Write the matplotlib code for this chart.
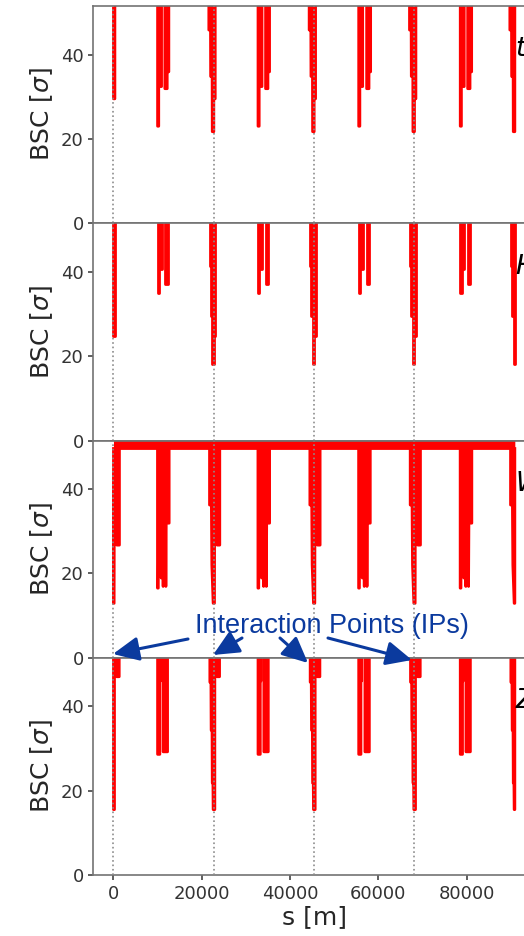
import numpy as np
import matplotlib
matplotlib.use('Agg')
import matplotlib.pyplot as plt

# positions around the ring [m]
IP_S = [0, 22725, 45450, 68175, 90900]
TS1_S = [10350, 33100, 55900, 78900]
TS2_S = [12020, 34830, 57720, 80600]

MODES = [r'$t\bar{t}$', r'$H$', r'$W$', r'$Z$']

# dip profiles: (offset from centre [m], BSC [sigma])
TT_IP_L = [(-1130, 45.8), (-750, 45.8), (-720, 34.8), (-380, 34.8), (-350, 21.7), (0, 21.7)]
TT_IP_R = [(0, 29.5), (320, 29.5)]
TT_TS1 = [(-360, 23.0), (-100, 23.0), (-100, 32.4), (540, 32.4)]
TT_TS2 = [(-380, 31.9), (150, 31.9), (150, 35.9), (520, 35.9)]

H_IP_L = [(-970, 41.3), (-700, 41.3), (-700, 29.4), (-300, 29.4), (-300, 18.2), (0, 18.2)]
H_IP_R = [(0, 24.7), (320, 24.7)]
H_TS1 = [(-360, 35.0), (-50, 35.0), (-50, 40.6), (540, 40.6)]
H_TS2 = [(-380, 37.2), (230, 37.2)]

W_IP_L = [(-970, 36.2), (-550, 36.2), (-450, 22.0), (-150, 12.9), (0, 12.9)]
W_IP_R = [(0, 12.9), (150, 12.9), (200, 44.0), (750, 44.0), (750, 26.7), (1350, 26.7)]
W_TS = [(-380, 16.5), (-200, 16.5), (-150, 29.0), (380, 29.0), (450, 18.9), (520, 29.0),
        (820, 29.0), (900, 16.9), (980, 29.0), (1150, 31.9), (1450, 31.9), (1520, 16.9),
        (1600, 31.9), (2260, 31.9)]

Z_IP_L = [(-900, 45.7), (-650, 45.7), (-600, 34.3), (-400, 34.3), (-350, 21.8), (-200, 21.8),
          (-150, 15.5), (0, 15.5)]
Z_IP_R = [(0, 15.5), (230, 15.5), (230, 49.0), (700, 49.0), (700, 47.0), (1300, 47.0)]
Z_TS1 = [(-360, 28.6), (150, 28.6), (150, 46.0), (320, 46.0)]
Z_TS2 = [(-770, 29.2), (230, 29.2)]

# BSC level between the dips
ARC_LEVEL = [60, 60, 49.6, 60]

PANELS = [
    (TT_IP_L, TT_IP_R, [(TS1_S, TT_TS1), (TS2_S, TT_TS2)]),
    (H_IP_L, H_IP_R, [(TS1_S, H_TS1), (TS2_S, H_TS2)]),
    (W_IP_L, W_IP_R, [(TS1_S, W_TS)]),
    (Z_IP_L, Z_IP_R, [(TS1_S, Z_TS1), (TS2_S, Z_TS2)]),
]


def ring(ip_l, ip_r, dips, level):
    segs = [(IP_S[0], ip_r)]
    for c in IP_S[1:-1]:
        segs.append((c, ip_l + ip_r))
    segs.append((IP_S[-1], ip_l))
    for centres, prof in dips:
        segs += [(c, prof) for c in centres]
    segs.sort(key=lambda t: t[0] + t[1][0][0])
    s, b = [IP_S[0]], [level]
    for c, prof in segs:
        xs = [c + p[0] for p in prof]
        s += [xs[0]] + xs + [xs[-1]]
        b += [level] + [p[1] for p in prof] + [level]
    s.append(IP_S[-1])
    b.append(level)
    return np.array(s, float), np.array(b, float)


W_PX, H_PX = 524, 936
fig = plt.figure(figsize=(W_PX / 100, H_PX / 100), dpi=100)

left = 93.4 / W_PX
width = 441.5 / W_PX
h = 217.25 / H_PX
bottom0 = 61 / H_PX

axes = []
for i in range(4):
    ax = fig.add_axes([left, bottom0 + (3 - i) * h, width, h])
    axes.append(ax)

for i, ax in enumerate(axes):
    ip_l, ip_r, dips = PANELS[i]
    s, b = ring(ip_l, ip_r, dips, ARC_LEVEL[i])
    ax.fill_between(s, b, 60, color='red', lw=0, zorder=2)
    ax.plot(s, b, color='red', lw=2.0, zorder=2)
    for ip in IP_S[:4]:
        ax.axvline(ip, color='0.55', ls=':', lw=1.2, zorder=3)

    ax.set_xlim(-4545, 95445)
    ax.set_ylim(0, 51.5)
    ax.set_yticks([0, 20, 40])
    ax.set_ylabel(r'BSC [$\sigma$]', fontsize=18, color='0.15')
    ax.tick_params(labelsize=13, colors='0.2', width=1.1)
    for sp in ax.spines.values():
        sp.set_color('0.45')
        sp.set_linewidth(1.2)
    ax.text(0.955, 0.767, MODES[i], transform=ax.transAxes, fontsize=19,
            va='baseline', ha='left', clip_on=False)
    if i < 3:
        ax.tick_params(axis='x', length=0, labelbottom=False)

axes[-1].set_xticks([0, 20000, 40000, 60000, 80000])
axes[-1].set_xlabel('s [m]', fontsize=18, color='0.15', labelpad=2)

# interaction point call-out
blue = '#0b3a9e'
fig.text(195 / W_PX, 1 - 633 / H_PX, 'Interaction Points (IPs)', color=blue,
         fontsize=19.5, family='Liberation Sans', va='baseline')
arrows = [((188, 639), (113, 654)), ((242, 638), (213, 655)),
          ((280, 638), (308, 663)), ((328, 638), (412, 660))]
for (tx, ty), (hx, hy) in arrows:
    fig.add_artist(matplotlib.patches.FancyArrowPatch(
        (tx, H_PX - ty), (hx, H_PX - hy), transform=None,
        arrowstyle='-|>,head_length=0.75,head_width=0.35', mutation_scale=21,
        color=blue, lw=2.2, shrinkA=0, shrinkB=0, zorder=10))

fig.savefig('out.png', dpi=100)
